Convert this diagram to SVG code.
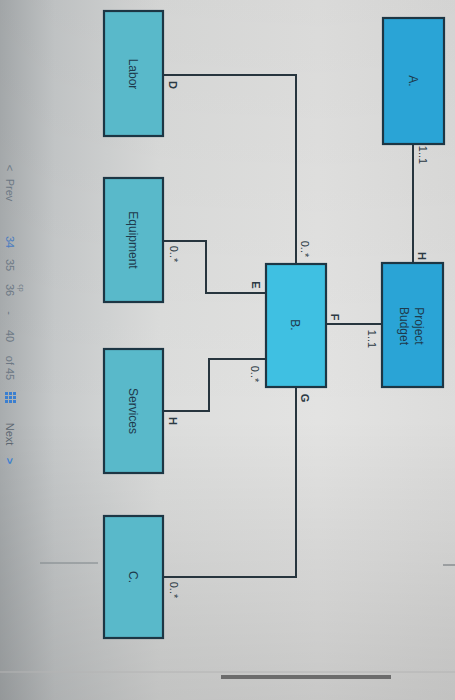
<svg xmlns="http://www.w3.org/2000/svg" width="455" height="700" viewBox="0 0 455 700">
  <defs>
    <linearGradient id="bg" x1="0" y1="0" x2="1" y2="0">
      <stop offset="0" stop-color="#a8acae"/>
      <stop offset="0.12" stop-color="#c6c9ca"/>
      <stop offset="0.35" stop-color="#dcdddc"/>
      <stop offset="0.7" stop-color="#e3e3e2"/>
      <stop offset="1" stop-color="#dcdcdb"/>
    </linearGradient>
    <linearGradient id="shade" x1="0" y1="0" x2="0" y2="1">
      <stop offset="0" stop-color="#000" stop-opacity="0.04"/>
      <stop offset="0.6" stop-color="#000" stop-opacity="0"/>
      <stop offset="1" stop-color="#000" stop-opacity="0.12"/>
    </linearGradient>
    <style>
      .box { stroke: #1d3644; stroke-width: 2.2; }
      .dark { fill: #2aa4d6; }
      .mid { fill: #3fc0e2; }
      .teal { fill: #59b9ca; }
      .lbl { font-family: "Liberation Sans", Arial, sans-serif; font-size: 12px; fill: #1e3a4c; text-anchor: middle; dominant-baseline: central; }
      .mult { font-family: "Liberation Sans", Arial, sans-serif; font-size: 11px; fill: #2c3a44; text-anchor: middle; dominant-baseline: central; }
      .role { font-family: "Liberation Sans", Arial, sans-serif; font-size: 11px; font-weight: bold; fill: #2c3a44; text-anchor: middle; dominant-baseline: central; }
      .conn { fill: none; stroke: #27353e; stroke-width: 2; }
      .pg { font-family: "Liberation Sans", Arial, sans-serif; font-size: 11px; fill: #6c7884; text-anchor: middle; dominant-baseline: central; }
    </style>
  </defs>
  <rect x="0" y="0" width="455" height="700" fill="url(#bg)"/>
  <rect x="0" y="0" width="455" height="700" fill="url(#shade)"/>
  <!-- page decorations -->
  <line x1="40" y1="563" x2="98" y2="563" stroke="#7c8488" stroke-width="1"/>
  <line x1="443" y1="565" x2="455" y2="565" stroke="#8a8e90" stroke-width="1.5"/>
  <line x1="0" y1="672" x2="455" y2="672" stroke="#b4b4b4" stroke-width="1"/>
  <rect x="221" y="675" width="170" height="4" fill="#6c6c6c"/>

  <!-- pagination -->
  <g id="pagination">
    <text class="pg" transform="translate(10,168) rotate(90)">&lt;</text>
    <text class="pg" transform="translate(10,190) rotate(90)">Prev</text>
    <text class="pg" fill="#4a7cc0" style="fill:#4a7cc0" transform="translate(10,242) rotate(90)">34</text>
    <text class="pg" transform="translate(10,265) rotate(90)">35</text>
    <text class="pg" transform="translate(10,290) rotate(90)">36</text>
    <text class="pg" style="font-size:7px" transform="translate(21,288) rotate(90)">cp</text>
    <text class="pg" transform="translate(10,313) rotate(90)">-</text>
    <text class="pg" transform="translate(10,336) rotate(90)">40</text>
    <text class="pg" transform="translate(10,368) rotate(90)">of 45</text>
    <g fill="#3b7fd0">
      <rect x="5" y="392" width="3" height="3"/><rect x="9" y="392" width="3" height="3"/><rect x="13" y="392" width="3" height="3"/>
      <rect x="5" y="396" width="3" height="3"/><rect x="9" y="396" width="3" height="3"/><rect x="13" y="396" width="3" height="3"/>
      <rect x="5" y="400" width="3" height="3"/><rect x="9" y="400" width="3" height="3"/><rect x="13" y="400" width="3" height="3"/>
    </g>
    <text class="pg" style="fill:#5c6670" transform="translate(10,434) rotate(90)">Next</text>
    <text class="pg" style="fill:#3b7fd0;font-weight:bold" transform="translate(10,461) rotate(90)">&gt;</text>
  </g>

  <!-- connectors -->
  <g id="connectors">
    <path class="conn" d="M413,144 V263"/>
    <path class="conn" d="M382,324 H326"/>
    <path class="conn" d="M296,264 V75 H163"/>
    <path class="conn" d="M163,241 H206 V293 H266"/>
    <path class="conn" d="M163,411 H209 V359 H266"/>
    <path class="conn" d="M296,387 V577 H163"/>
    <text class="mult" transform="translate(423,155) rotate(90)">1..1</text>
    <text class="role" transform="translate(422,256) rotate(90)">H</text>
    <text class="role" transform="translate(335,317) rotate(90)">F</text>
    <text class="mult" transform="translate(372,339) rotate(90)">1..1</text>
    <text class="mult" transform="translate(305,249) rotate(90)">0..*</text>
    <text class="role" transform="translate(173,85) rotate(90)">D</text>
    <text class="mult" transform="translate(174,254) rotate(90)">0..*</text>
    <text class="role" transform="translate(256,285) rotate(90)">E</text>
    <text class="mult" transform="translate(255,374) rotate(90)">0..*</text>
    <text class="role" transform="translate(173,421) rotate(90)">H</text>
    <text class="role" transform="translate(305,398) rotate(90)">G</text>
    <text class="mult" transform="translate(174,590) rotate(90)">0..*</text>
  </g>

  <g id="nodeA">
    <rect class="box dark" x="383" y="18" width="61" height="126"/>
    <text class="lbl" transform="translate(413,81) rotate(90)">A.</text>
  </g>
  <g id="nodeProjectBudget">
    <rect class="box dark" x="382" y="263" width="61" height="124"/>
    <text class="lbl" transform="translate(419,326) rotate(90)">Project</text>
    <text class="lbl" transform="translate(404,326) rotate(90)">Budget</text>
  </g>
  <g id="nodeB">
    <rect class="box mid" x="266" y="264" width="60" height="123"/>
    <text class="lbl" transform="translate(295,325) rotate(90)">B.</text>
  </g>
  <g id="nodeLabor">
    <rect class="box teal" x="104" y="11" width="59" height="125"/>
    <text class="lbl" transform="translate(133,74) rotate(90)">Labor</text>
  </g>
  <g id="nodeEquipment">
    <rect class="box teal" x="104" y="178" width="59" height="124"/>
    <text class="lbl" transform="translate(133,240) rotate(90)">Equipment</text>
  </g>
  <g id="nodeServices">
    <rect class="box teal" x="104" y="349" width="59" height="124"/>
    <text class="lbl" transform="translate(133,411) rotate(90)">Services</text>
  </g>
  <g id="nodeC">
    <rect class="box teal" x="104" y="516" width="59" height="122"/>
    <text class="lbl" transform="translate(133,577) rotate(90)">C.</text>
  </g>
</svg>
